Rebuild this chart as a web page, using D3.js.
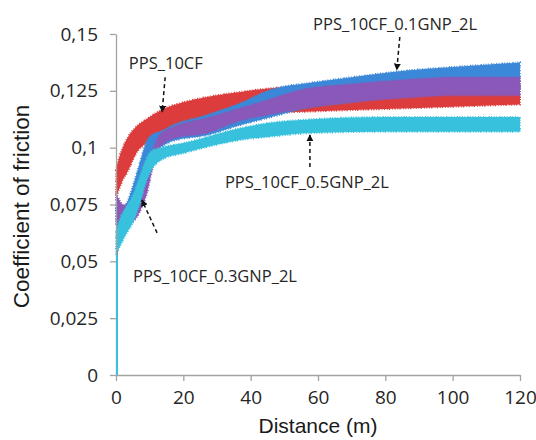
<!DOCTYPE html>
<html>
<head>
<meta charset="utf-8">
<script src="https://cdn.jsdelivr.net/npm/d3@7"></script>
<style>
  body { margin: 0; background: #fff; }
  svg { display: block; }
</style>
</head>
<body>
<svg id="chart" width="536" height="440"></svg>
<script>
'use strict'

// axis ticks
const xTicks = [0, 20, 40, 60, 80, 100, 120]
const yTicks = [0, 0.025, 0.05, 0.075, 0.1, 0.125, 0.15]
const yTickLabels = ['0', '0,025', '0,05', '0,075', '0,1', '0,125', '0,15']

// each series is a noisy band: lower and upper envelope
const redDist  = [0, 1, 2, 3.3, 6.2, 9, 11, 14, 20, 27, 37, 45, 60, 80, 100, 120]
const redLow   = [0.078, 0.082, 0.0858, 0.089, 0.098, 0.102, 0.1045, 0.1075, 0.109, 0.111, 0.113, 0.115, 0.116, 0.117, 0.118, 0.119]
const redHigh  = [0.090, 0.096, 0.100, 0.104, 0.1095, 0.1125, 0.1145, 0.117, 0.120, 0.1223, 0.1245, 0.126, 0.127, 0.127, 0.127, 0.127]

const blueDist = [0, 1, 3, 5, 7, 9, 11, 13, 17, 27, 37, 45, 50, 55, 70, 87, 100, 120]
const blueLow  = [0.066, 0.066, 0.067, 0.073, 0.083, 0.093, 0.098, 0.100, 0.103, 0.1055, 0.110, 0.113, 0.115, 0.117, 0.120, 0.123, 0.124, 0.125]
const blueHigh = [0.074, 0.072, 0.075, 0.083, 0.093, 0.1025, 0.106, 0.107, 0.110, 0.1144, 0.1196, 0.125, 0.127, 0.128, 0.131, 0.134, 0.1355, 0.1375]

const purpleDist = [0, 1, 2, 4, 6, 8, 9, 10, 11, 13, 17, 27, 37, 45, 55, 70, 87, 100, 120]
const purpleLow  = [0.068, 0.067, 0.066, 0.067, 0.069, 0.075, 0.079, 0.085, 0.092, 0.100, 0.104, 0.1065, 0.112, 0.1144, 0.117, 0.120, 0.122, 0.123, 0.123]
const purpleHigh = [0.080, 0.077, 0.075, 0.075, 0.078, 0.084, 0.088, 0.094, 0.099, 0.1056, 0.109, 0.113, 0.1174, 0.121, 0.1255, 0.128, 0.130, 0.131, 0.131]

const cyanDist = [0, 1, 3, 5, 7, 9, 10.5, 14, 20, 27, 37, 45, 58, 80, 100, 120]
const cyanLow  = [0.053, 0.056, 0.062, 0.067, 0.075, 0.085, 0.090, 0.095, 0.0975, 0.1003, 0.1034, 0.1047, 0.1064, 0.107, 0.107, 0.107]
const cyanHigh = [0.063, 0.068, 0.074, 0.079, 0.087, 0.095, 0.0985, 0.1003, 0.102, 0.1047, 0.1086, 0.1108, 0.1125, 0.1135, 0.1135, 0.1135]

// labels with their arrows (text centre, arrow tail, arrow head) in data units
const labelNames = ['PPS_10CF', 'PPS_10CF_0.1GNP_2L', 'PPS_10CF_0.5GNP_2L', 'PPS_10CF_0.3GNP_2L']
const labelPos   = [[14.8, 0.1372], [82.9, 0.1545], [56.7, 0.0849], [29.4, 0.0435]]
const arrowFrom  = [[14.6, 0.131], [84.3, 0.1487], [57.6, 0.0915], [12.2, 0.0625]]
const arrowTo    = [[13.7, 0.1157], [83.4, 0.1342], [57.6, 0.1056], [7.7, 0.077]]

const series = [
  {dist: redDist, low: redLow, high: redHigh, color: '#dc3c3c'},
  {dist: blueDist, low: blueLow, high: blueHigh, color: '#3c88d8'},
  {dist: purpleDist, low: purpleLow, high: purpleHigh, color: '#8a58b8'},
  {dist: cyanDist, low: cyanLow, high: cyanHigh, color: '#38c1dc'}
]

const svg = d3.select('#chart')
const margin = {top: 34, right: 16, bottom: 65, left: 116}
const w = 536, h = 440

const x = d3.scaleLinear().domain([0, 120]).range([margin.left, w - margin.right])
const y = d3.scaleLinear().domain([0, 0.15]).range([h - margin.bottom, margin.top])

const area = d3.area()
  .x(d => x(d.d))
  .y0(d => y(d.lo))
  .y1(d => y(d.hi))
  .curve(d3.curveMonotoneX)

// bands, each starting with the run-in spike from zero
const bands = svg.append('g').attr('class', 'bands')
series.forEach(s => {
  const pts = s.dist.map((d, i) => ({d: d, lo: s.low[i], hi: s.high[i]}))
  bands.append('line')
    .attr('x1', x(0) + 1).attr('x2', x(0) + 1)
    .attr('y1', y(0)).attr('y2', y(s.low[0]))
    .attr('stroke', s.color).attr('stroke-width', 2)
  bands.append('path')
    .datum(pts)
    .attr('d', area)
    .attr('fill', s.color)
    // dashed outline gives the ragged edge of the noisy signal
    .attr('stroke', s.color)
    .attr('stroke-width', 2)
    .attr('stroke-dasharray', '1 1.6 0.7 2.2 1.3 1.2 0.8 1.8')
})

// axes
const axisColor = '#a3a3a3'
const xAxis = svg.append('g')
  .attr('transform', `translate(0,${y(0)})`)
  .call(d3.axisBottom(x).tickValues(xTicks).tickSize(6).tickSizeOuter(0).tickPadding(6))
const yAxis = svg.append('g')
  .attr('transform', `translate(${x(0)},0)`)
  .call(d3.axisLeft(y).tickValues(yTicks).tickSize(6).tickSizeOuter(0).tickPadding(12)
    .tickFormat((d, i) => yTickLabels[i]))

;[xAxis, yAxis].forEach(g => {
  g.select('.domain').attr('stroke', axisColor).attr('stroke-width', 1.3)
  g.selectAll('.tick line').attr('stroke', axisColor).attr('stroke-width', 1.3)
  g.selectAll('.tick text')
    .attr('fill', '#262626')
    .style('font-family', '"Open Sans", sans-serif')
    .style('font-size', '19px')
})
xAxis.selectAll('.tick text').attr('dy', '0.9em')

// the cyan run-in line sits over the y axis in the original
svg.append('line')
  .attr('x1', x(0) + 1).attr('x2', x(0) + 1)
  .attr('y1', y(0)).attr('y2', y(cyanLow[0]))
  .attr('stroke', '#38c1dc').attr('stroke-width', 2)

// axis titles
svg.append('text')
  .attr('x', (x(0) + x(120)) / 2)
  .attr('y', 433)
  .attr('text-anchor', 'middle')
  .style('font-family', '"Liberation Sans", Arial, sans-serif')
  .style('font-size', '21px')
  .attr('fill', '#1a1a1a')
  .text('Distance (m)')

svg.append('text')
  .attr('transform', `translate(29,${(y(0) + y(0.15)) / 2 + 2}) rotate(-90)`)
  .attr('text-anchor', 'middle')
  .style('font-family', '"Liberation Sans", Arial, sans-serif')
  .style('font-size', '22.5px')
  .attr('fill', '#1a1a1a')
  .text('Coefficient of friction')

// arrowhead
svg.append('defs').append('marker')
  .attr('id', 'head')
  .attr('viewBox', '0 0 10 10')
  .attr('refX', 9).attr('refY', 5)
  .attr('markerWidth', 7).attr('markerHeight', 7)
  .attr('markerUnits', 'userSpaceOnUse')
  .attr('orient', 'auto')
  .append('path').attr('d', 'M0,0 L10,5 L0,10 Z').attr('fill', '#111')

const notes = svg.append('g').attr('class', 'notes')
labelNames.forEach((name, i) => {
  notes.append('line')
    .attr('x1', x(arrowFrom[i][0])).attr('y1', y(arrowFrom[i][1]))
    .attr('x2', x(arrowTo[i][0])).attr('y2', y(arrowTo[i][1]))
    .attr('stroke', '#111')
    .attr('stroke-width', 1.5)
    .attr('stroke-dasharray', '4 3')
    .attr('marker-end', 'url(#head)')
  notes.append('text')
    .attr('x', x(labelPos[i][0]))
    .attr('y', y(labelPos[i][1]))
    .attr('dy', '0.35em')
    .attr('text-anchor', 'middle')
    .style('font-family', '"Open Sans", sans-serif')
    .style('font-size', '16.5px')
    .attr('fill', '#262626')
    .text(name)
})
</script>
</body>
</html>
